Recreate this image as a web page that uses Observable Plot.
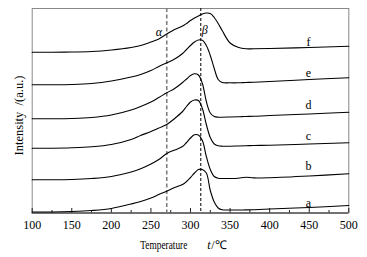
<!DOCTYPE html>
<html><head><meta charset="utf-8">
<script src="https://cdn.jsdelivr.net/npm/d3@7"></script>
<script src="https://cdn.jsdelivr.net/npm/@observablehq/plot@0.6"></script>
<style>body{margin:0;background:#fff}</style>
</head><body><div id="chart"></div>
<script>
const temps = [100,125,150,175,200,225,237,250,260,270,280,290,295,300,305,310,315,320,325,330,335,340,350,360,370,380,400,450,500];
const seriesA = [1,1,1.5,2.5,4.5,9,11.5,15,18.5,21.8,25.5,28.5,31.5,35.5,40,43.5,43.5,40,22.5,11,5,3.2,3,3,3.1,3.3,4,5.5,7.5];
const seriesB = [33.2,33.2,33.5,34.5,36.5,41,44.2,49,53.5,59.5,63,66.5,70.5,75,78.2,78,72.5,56.5,43.5,36.5,34.8,34.5,34.5,34.8,35.8,35.1,35.3,37,39.2];
const seriesC = [64.8,64.8,65.2,66.2,68.5,73.5,77.5,81.5,85,88.5,94.5,101.5,106.5,111,113,112.5,104.5,88.5,75.5,69,67.2,66.8,66.8,67,67.2,67.5,67.7,69,70.2];
const seriesD = [94.2,94.2,94.5,95.5,98,103,106.5,111,115.5,120.2,124.5,130.5,134,137.5,139.2,138,129.5,111.5,100,96.5,95.8,95.8,96,96.2,96.5,96.7,97.5,99,100.8];
const seriesE = [128.2,128.2,128.5,129.5,132,136,138.5,142.5,146.5,150.2,154,159.5,163.5,167.5,171,173,172.7,167.5,157.5,144.5,133.5,130.5,130.2,130.2,130.5,130.8,131.5,133.5,135.2];
const seriesF = [160.8,160.8,161,161.5,163,165.5,167.5,171,174,179,183.5,187,189.5,192.5,195,197,199,200,199.5,195.5,189.5,182.5,170,165.8,164.2,164.2,164.5,165.5,166.8];
const seriesNames = ["a","b","c","d","e","f"];
const seriesValues = [seriesA, seriesB, seriesC, seriesD, seriesE, seriesF];
const labelT = 449;
const labelValues = [9.8, 46.8, 76.5, 108.2, 139.8, 170.8];
const majorTicks = [100,150,200,250,300,350,400,450,500];
const minorTicks = [125,175,225,275,325,375,425,475];
const alphaT = 270, betaT = 313;
const greekNames = ["α","β"];
const greekT = [260, 318];
const greekV = [180.5, 182.5];

const rows = seriesNames.flatMap((s, i) => temps.map((t, j) => ({series: s, t, v: seriesValues[i][j]})));

const svg = Plot.plot({
  width: 367, height: 257,
  marginTop: 8, marginBottom: 44.5, marginLeft: 31.7, marginRight: 18.7,
  style: {fontFamily: "Liberation Serif", fontSize: "12px", color: "black", background: "white"},
  x: {domain: [100, 500]},
  y: {domain: [0, 204.5], axis: null},
  marks: [
    Plot.frame({stroke: "#888"}),
    Plot.ruleY([0], {stroke: "#222"}),
    Plot.ruleX(majorTicks, {y1: 0, y2: 4.5, stroke: "#222"}),
    Plot.ruleX(minorTicks, {y1: 0, y2: 2.5, stroke: "#222"}),
    Plot.axisX({ticks: majorTicks, tickSize: 0, tickPadding: 7, label: null, fontSize: 12}),
    Plot.ruleX([alphaT], {stroke: "#808080", strokeWidth: 1.6, strokeDasharray: "4,2.5"}),
    Plot.ruleX([betaT], {stroke: "black", strokeWidth: 1, strokeDasharray: "3,2"}),
    Plot.line(rows, {x: "t", y: "v", z: "series", stroke: "black", strokeWidth: 1.1, curve: "catmull-rom"}),
    Plot.text(seriesNames, {x: () => labelT, y: (d, i) => labelValues[i], text: d => d, fontSize: 12}),
    Plot.text(greekNames, {x: (d, i) => greekT[i], y: (d, i) => greekV[i], text: d => d, fontSize: 12, fontStyle: "italic"}),
    Plot.text(["Temperature"], {frameAnchor: "bottom", textAnchor: "middle", lineAnchor: "middle", dx: -26.7, dy: 32.5, fontSize: 12}),
    Plot.text(["t"], {frameAnchor: "bottom", textAnchor: "middle", lineAnchor: "middle", dx: 18.5, dy: 32.5, fontSize: 12, fontStyle: "italic"}),
    Plot.text(["/℃"], {frameAnchor: "bottom", textAnchor: "middle", lineAnchor: "middle", dx: 28.5, dy: 32.5, fontSize: 12}),
    Plot.text(["Intensity\u00a0\u00a0/(a.u.)"], {frameAnchor: "left", textAnchor: "middle", lineAnchor: "middle", rotate: -90, dx: -13.4, dy: 4.75, fontSize: 12.5})
  ]
});
d3.select(svg).selectAll("text").filter(function () { return this.textContent === "Temperature"; })
  .attr("textLength", 47).attr("lengthAdjust", "spacingAndGlyphs");
document.getElementById("chart").appendChild(svg);
</script>
</body></html>
